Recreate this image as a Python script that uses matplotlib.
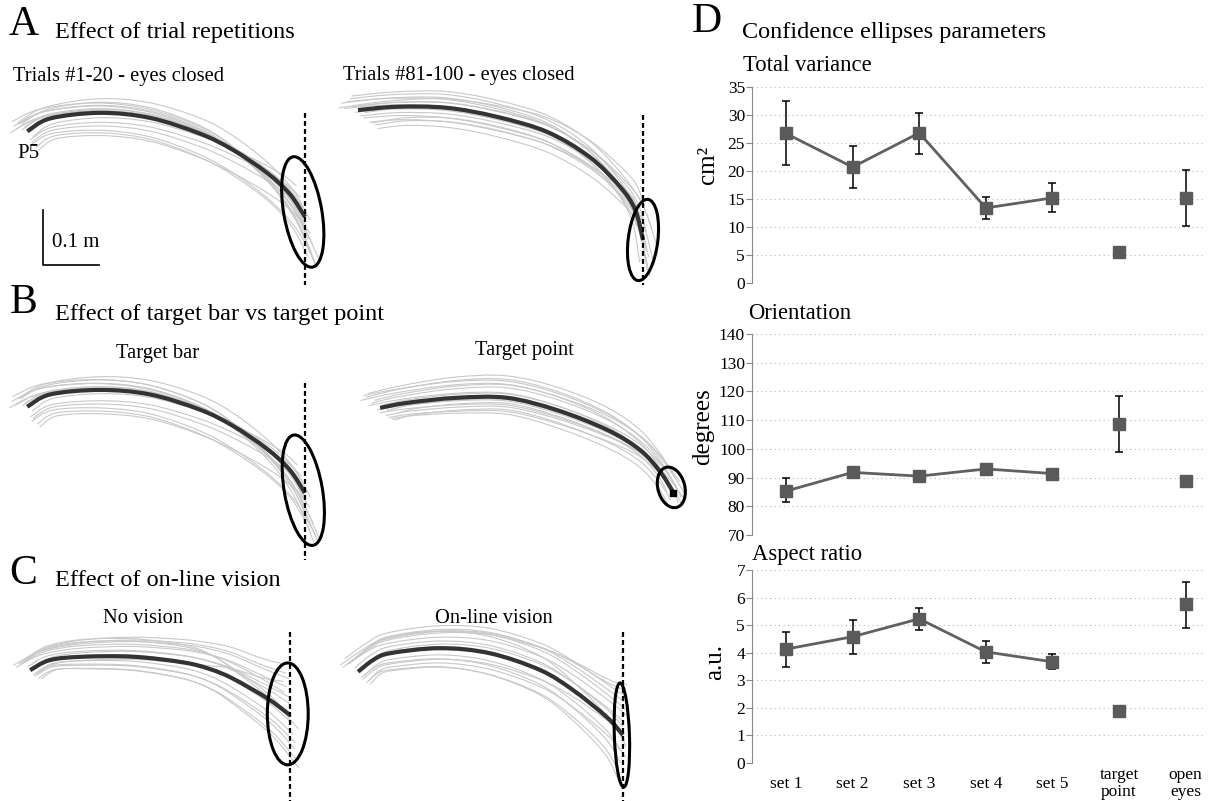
import matplotlib
matplotlib.use("Agg")
import matplotlib.pyplot as plt
from matplotlib.path import Path
from matplotlib.patches import PathPatch, Ellipse

plt.rcParams["font.family"] = ["Liberation Serif", "DejaVu Serif"]

W, H = 1225, 801
PX_PER_CM = 5.6

# ---------------- trajectories (cm, origin = target / mean end point) ----------------
# mean hand paths
a1_mean_x = [-49.6, -45.5, -36.6, -27.7, -18.8, -12.9, -6.8, -2.7, 0.0]
a1_mean_y = [15.3, 17.6, 18.6, 17.7, 14.9, 12.0, 7.9, 4.1, 0.0]
a2_mean_x = [-50.9, -43.9, -35.0, -26.1, -17.1, -9.5, -4.1, -1.4, 0.0]
a2_mean_y = [23.2, 23.8, 23.6, 22.0, 19.3, 14.8, 9.5, 5.4, 0.0]
b1_mean_x = [-49.6, -45.5, -36.6, -27.7, -18.8, -12.9, -6.8, -2.7, 0.0]
b1_mean_y = [15.4, 17.6, 18.4, 17.6, 14.9, 12.0, 7.9, 4.1, 0.0]
b2_mean_x = [-52.3, -47.5, -38.6, -29.6, -20.7, -11.8, -5.9, -2.3, 0.0]
b2_mean_y = [15.2, 16.1, 17.0, 17.0, 14.8, 11.3, 7.7, 3.8, 0.2]
c1_mean_x = [-46.4, -42.9, -37.0, -28.0, -19.1, -14.3, -10.2, -4.1, 0.0]
c1_mean_y = [8.0, 9.8, 10.4, 10.4, 9.4, 8.2, 6.5, 3.0, 0.0]
c2_mean_x = [-47.3, -44.6, -41.6, -32.7, -23.8, -14.8, -8.9, -2.9, 0.0]
c2_mean_y = [11.3, 13.4, 14.6, 15.5, 14.6, 11.6, 8.0, 3.2, 0.0]

# single trials: start dx, start dy, mid-path dy, end dx, end dy (cm, from the mean path)
a1_trials = [(-2.5, 0.5, 1.8, 1.8, -8.5), (-1.5, 1.0, 1.4, 1.2, -6.5), (-3.0, -0.4, 0.8, 0.6, -4.0),
             (-1.0, 0.8, 2.4, 2.2, -9.2), (0.5, -1.2, -1.8, -0.8, 3.5), (1.5, -2.2, -3.4, 0.5, -7.0),
             (-2.0, 0.3, 0.4, 0.2, -1.5), (0.8, -1.5, -2.4, -1.0, 1.0), (-1.0, 0.0, 1.0, 1.4, -5.0),
             (2.0, -2.6, -4.0, 1.0, -3.0), (-0.5, 0.6, 0.8, 0.4, -2.5), (1.0, -0.8, -1.0, -1.5, 5.5),
             (-2.8, 1.3, 2.0, 2.6, -7.8), (0.3, -0.3, 0.2, -0.3, 1.5), (-1.8, 0.9, 2.8, 0.9, -0.5),
             (0.6, -1.9, -2.9, 1.8, -8.0)]
a2_trials = [(-3.0, 0.8, 2.2, 0.8, -5.5), (-2.0, 1.2, 1.6, 1.0, -3.0), (-1.0, 0.4, 1.0, 0.6, 1.5),
             (0.5, -0.8, -1.2, -0.4, 3.5), (2.0, -1.6, -2.8, -0.8, 5.0), (3.5, -2.6, -3.5, 0.2, -1.0),
             (-2.5, 0.2, 0.5, 1.2, -6.5), (-0.5, -0.3, -0.5, 0.0, 0.5), (1.0, -1.0, -2.0, -1.2, 2.5),
             (-1.5, 1.5, 2.6, 2.0, -4.5), (0.0, 0.6, 0.8, 1.6, 2.0), (2.5, -2.0, -1.5, 0.6, -2.0),
             (-3.5, 0.0, 1.8, 0.3, 6.0), (1.2, -0.5, 0.2, -0.6, -4.0), (-1.2, 1.9, 3.0, 2.6, -1.5),
             (3.0, -2.2, -2.4, -0.2, 1.0)]
b1_trials = [(-2.8, 0.6, 1.6, 1.6, -8.8), (-1.8, 1.2, 1.2, 1.0, -6.0), (-3.2, -0.3, 0.6, 0.4, -3.5),
             (-1.2, 1.0, 2.2, 2.4, -9.0), (0.6, -1.4, -2.0, -0.6, 3.0), (1.8, -2.4, -3.6, 0.8, -6.5),
             (-2.2, 0.2, 0.3, 0.0, -1.0), (1.0, -1.6, -2.6, -1.2, 1.5), (-0.8, 0.0, 0.9, 1.5, -5.5),
             (2.2, -2.8, -4.2, 0.9, -2.5), (-0.4, 0.5, 0.6, 0.3, -2.0), (0.9, -0.6, -0.8, -1.4, 5.0),
             (-2.6, 1.4, 2.1, 2.5, -8.0), (0.2, -0.2, 0.1, -0.4, 2.0), (-1.5, 1.0, 2.6, 1.0, -0.8),
             (0.8, -2.0, -3.0, 1.9, -7.5)]
b2_trials = [(-3.5, 0.8, 2.6, 1.0, -2.0), (-2.5, 1.2, 3.4, 1.5, -1.0), (-1.5, 0.5, 1.8, 0.8, 0.5),
             (0.0, -0.6, -1.4, -0.8, 1.5), (1.5, -1.2, -2.6, -1.2, 2.0), (2.5, -1.8, -2.0, -0.4, -1.5),
             (-2.0, 0.2, 1.0, 1.8, -2.5), (-0.5, -0.2, -0.6, 0.2, 0.2), (1.0, -1.0, -1.8, -1.6, 2.6),
             (-3.0, 1.6, 3.0, 2.2, -0.5), (0.5, 0.4, 0.6, 0.6, 1.0), (2.0, -1.4, -2.8, -0.6, -2.8),
             (-1.0, 0.9, 2.2, 1.2, 1.8), (3.0, -0.8, -1.0, -1.0, 0.0), (-2.2, 1.8, 3.8, 0.4, 2.4),
             (1.2, -0.4, -0.3, 2.0, -1.2)]
c1_trials = [(-2.0, 0.6, 2.6, -0.8, 7.5), (-1.0, 1.0, 3.0, -0.4, 9.0), (-2.5, 0.2, 1.6, -0.6, 5.0),
             (0.5, -0.6, -1.2, 0.8, -6.0), (1.5, -1.0, -2.0, 1.2, -8.0), (-0.5, 0.4, 1.0, 0.0, 2.0),
             (1.0, -0.4, -0.6, 0.6, -3.5), (-1.5, 0.8, 2.0, -1.0, 4.0), (0.0, -0.2, 0.4, 0.4, -1.5),
             (2.0, -1.2, -1.8, 1.6, -9.5), (-3.0, 0.4, 2.4, -0.2, 6.5), (0.8, -0.8, -1.4, 1.0, -5.0),
             (-1.2, 1.2, 2.8, -0.6, 0.5), (0.3, 0.0, 0.8, 0.2, 3.0), (-0.8, 1.4, 3.4, 1.5, -2.5),
             (1.2, -0.6, -0.8, -1.2, 6.0)]
c2_trials = [(-2.0, 0.8, 2.6, 0.4, 8.0), (-1.2, 1.2, 3.0, 0.2, 6.0), (-2.8, 0.4, 1.8, 0.6, 3.5),
             (0.5, -0.8, -1.6, -0.4, -5.0), (1.5, -1.4, -2.8, -0.6, -8.5), (-0.6, 0.5, 1.2, 0.0, 1.5),
             (1.0, -0.6, -1.0, -0.2, -3.0), (-1.6, 1.0, 2.2, 0.8, 9.0), (0.2, -0.2, 0.4, 0.3, -1.0),
             (2.2, -1.6, -3.0, -0.8, -6.5), (-3.2, 0.6, 2.8, 0.5, 4.5), (0.8, -1.0, -2.0, -0.3, 0.5),
             (-1.0, 1.4, 3.2, 0.6, -2.0), (0.4, 0.0, 0.6, -0.1, 2.5), (-2.4, 1.6, 3.6, 0.3, 7.0),
             (1.8, -1.2, -2.4, 0.5, -4.0)]

# confidence ellipses: centre x, centre y, major, minor, angle (deg)
a1_ellipse = (-0.4, 0.9, 20.0, 6.8, 100)
a2_ellipse = (0.0, 0.0, 14.6, 5.3, 83)
b1_ellipse = (-0.3, 0.5, 20.0, 6.8, 100)
b2_ellipse = (-0.3, 1.0, 7.4, 4.8, 105)
c1_ellipse = (-0.4, 0.2, 18.2, 7.3, 90)
c2_ellipse = (-0.2, 0.0, 18.6, 2.7, 92)

# vertical extent of the dashed target bar (cm)
a1_bar = (18.6, -12.1)
a2_bar = (22.3, -8.0)
b1_bar = (19.6, -12.0)
c1_bar = (14.8, -15.4)
c2_bar = (18.4, -11.8)

# how the single-trial offsets are spread along the 9 path samples
START_W = [1.0, 0.6, 0.3, 0.1, 0.0, 0.0, 0.0, 0.0, 0.0]
MID_W = [0.2, 0.5, 0.8, 0.95, 1.0, 0.9, 0.65, 0.35, 0.0]
END_W = [0.0, 0.01, 0.03, 0.06, 0.12, 0.22, 0.4, 0.65, 1.0]

# ---------------- confidence ellipse parameters ----------------
categories = ["set 1", "set 2", "set 3", "set 4", "set 5", "target\npoint", "open\neyes"]
n_sets = 5
variance = [26.7, 20.7, 26.8, 13.4, 15.2, 5.5, 15.1]
variance_lo = [21.0, 17.0, 23.1, 11.5, 12.6, 5.5, 10.2]
variance_hi = [32.5, 24.4, 30.3, 15.3, 17.9, 5.5, 20.2]
orientation = [85.3, 91.8, 90.5, 93.0, 91.4, 108.6, 88.7]
orientation_lo = [81.6, 90.8, 89.6, 92.1, 90.6, 98.8, 88.7]
orientation_hi = [90.0, 92.8, 91.4, 93.9, 92.2, 118.3, 88.7]
aspect = [4.13, 4.58, 5.23, 4.03, 3.67, 1.90, 5.75]
aspect_lo = [3.48, 3.95, 4.83, 3.64, 3.40, 1.82, 4.90]
aspect_hi = [4.74, 5.20, 5.62, 4.44, 3.96, 1.98, 6.55]


def smooth_path(xs, ys):
    # Catmull-Rom curve through the samples, drawn as cubic Bezier segments
    p = list(zip(xs, ys))
    n = len(p)
    verts = [p[0]]
    codes = [Path.MOVETO]
    for i in range(n - 1):
        p0 = p[i - 1] if i > 0 else p[i]
        p1, p2 = p[i], p[i + 1]
        p3 = p[i + 2] if i + 2 < n else p[i + 1]
        c1 = (p1[0] + (p2[0] - p0[0]) / 6, p1[1] + (p2[1] - p0[1]) / 6)
        c2 = (p2[0] - (p3[0] - p1[0]) / 6, p2[1] - (p3[1] - p1[1]) / 6)
        verts += [c1, c2, p2]
        codes += [Path.CURVE4] * 3
    return Path(verts, codes)


def px_axes(left, top, w, h):
    return fig.add_axes([left / W, 1 - (top + h) / H, w / W, h / H])


def draw_panel(box, origin, mean_x, mean_y, trials, ell, bar=None, target=False):
    left, top, w, h = box
    ox, oy = origin
    ax = px_axes(left, top, w, h)
    ax.set_xlim((left - ox) / PX_PER_CM, (left + w - ox) / PX_PER_CM)
    ax.set_ylim((oy - top - h) / PX_PER_CM, (oy - top) / PX_PER_CM)
    ax.axis("off")
    for sdx, sdy, mdy, edx, edy in trials:
        tx = [x + sdx * s + edx * e for x, s, e in zip(mean_x, START_W, END_W)]
        ty = [y + sdy * s + mdy * m + edy * e for y, s, m, e in zip(mean_y, START_W, MID_W, END_W)]
        ax.add_patch(PathPatch(smooth_path(tx, ty), fill=False, ec="#c9c9c9", lw=0.8))
    ax.add_patch(PathPatch(smooth_path(mean_x, mean_y), fill=False, ec="#333333", lw=3.0,
                           capstyle="butt", zorder=3))
    cx, cy, major, minor, ang = ell
    ax.add_patch(Ellipse((cx, cy), major, minor, angle=ang, fill=False, ec="black", lw=2.2, zorder=4))
    if bar is not None:
        ax.plot([0, 0], bar, color="black", lw=1.6, ls=(0, (2.2, 1.4)), zorder=5)
    if target:
        ax.plot(0, 0, marker="s", ms=5, color="black", zorder=6)
    return ax


fig = plt.figure(figsize=(W / 100, H / 100), dpi=100)

ax_a1 = draw_panel((0, 90, 340, 200), (305, 217), a1_mean_x, a1_mean_y, a1_trials, a1_ellipse, a1_bar)
draw_panel((335, 90, 355, 200), (643, 240), a2_mean_x, a2_mean_y, a2_trials, a2_ellipse, a2_bar)
draw_panel((0, 365, 340, 195), (305, 493), b1_mean_x, b1_mean_y, b1_trials, b1_ellipse, b1_bar)
draw_panel((335, 365, 355, 195), (673, 493), b2_mean_x, b2_mean_y, b2_trials, b2_ellipse, target=True)
draw_panel((0, 625, 340, 176), (290, 715), c1_mean_x, c1_mean_y, c1_trials, c1_ellipse, c1_bar)
draw_panel((335, 625, 355, 176), (623, 735), c2_mean_x, c2_mean_y, c2_trials, c2_ellipse, c2_bar)

# 0.1 m scale bar
ax_a1.plot([-46.8, -46.8, -36.8], [1.2, -8.6, -8.6], color="black", lw=1.2)


def ftext(x, y, s, size, **kw):
    fig.text(x / W, 1 - y / H, s, fontsize=size, va="baseline", ha=kw.pop("ha", "left"), **kw)


ftext(9, 35, "A", 30)
ftext(55, 38, "Effect of trial repetitions", 17.5)
ftext(13, 81, "Trials #1-20 - eyes closed", 14.8)
ftext(343, 80, "Trials #81-100 - eyes closed", 14.8)
ftext(17, 158, "P5", 15)
ftext(52, 247, "0.1 m", 15)
ftext(10, 313, "B", 30)
ftext(55, 320, "Effect of target bar vs target point", 17.5)
ftext(158, 358, "Target bar", 14.8, ha="center")
ftext(524, 355, "Target point", 14.8, ha="center")
ftext(9, 584, "C", 30)
ftext(55, 586, "Effect of on-line vision", 17.5)
ftext(143, 623, "No vision", 14.8, ha="center")
ftext(494, 623, "On-line vision", 14.8, ha="center")
ftext(692, 32, "D", 30)
ftext(742, 38, "Confidence ellipses parameters", 17.5)
ftext(743, 71, "Total variance", 16.3)
ftext(748, 319, "Orientation", 16.3)
ftext(752, 560, "Aspect ratio", 16.3)

# ---------------- panel D ----------------
x_pos = list(range(len(categories)))
d_boxes = [(752, 87, 451, 196), (752, 334, 451, 201), (752, 570, 451, 193)]
d_data = [(variance, variance_lo, variance_hi, (0, 35), range(0, 36, 5), "cm²", 708, 165),
          (orientation, orientation_lo, orientation_hi, (70, 140), range(70, 141, 10), "degrees", 703, 427),
          (aspect, aspect_lo, aspect_hi, (0, 7), range(0, 8), "a.u.", 715, 662)]

for i, (box, (vals, lo, hi, ylim, yticks, ylab, lx, ly)) in enumerate(zip(d_boxes, d_data)):
    ax = px_axes(*box)
    ax.set_xlim(-0.51, 6.26)
    ax.set_ylim(*ylim)
    ax.set_yticks(list(yticks))
    err = [[v - l for v, l in zip(vals, lo)], [h - v for v, h in zip(vals, hi)]]
    ax.errorbar(x_pos, vals, yerr=err, fmt="none", ecolor="black", elinewidth=1.1,
                capsize=3, capthick=1.1, zorder=2)
    ax.plot(x_pos[:n_sets], vals[:n_sets], color="#606060", lw=2, zorder=3)
    ax.plot(x_pos, vals, ls="none", marker="s", ms=8, color="#5a5a5a", zorder=4)
    ax.grid(axis="y", color="#b8b8b8", ls=(0, (1, 3)), lw=0.8)
    ax.set_axisbelow(True)
    for side in ("top", "right", "bottom"):
        ax.spines[side].set_visible(False)
    ax.spines["left"].set_color("#8a8a8a")
    ax.tick_params(axis="y", length=4, width=0.8, color="#8a8a8a", labelsize=12.5, pad=1)
    ax.tick_params(axis="x", length=0)
    if i == 2:
        ax.set_xticks(x_pos)
        ax.set_xticklabels(categories, fontsize=12.5, linespacing=1.1)
        for lab in ax.get_xticklabels():
            lab.set_va("center")
        ax.tick_params(axis="x", pad=15)
    else:
        ax.set_xticks([])
    fig.text(lx / W, 1 - ly / H, ylab, rotation=90, fontsize=18, ha="center", va="center")

fig.savefig("out.png", dpi=100)
